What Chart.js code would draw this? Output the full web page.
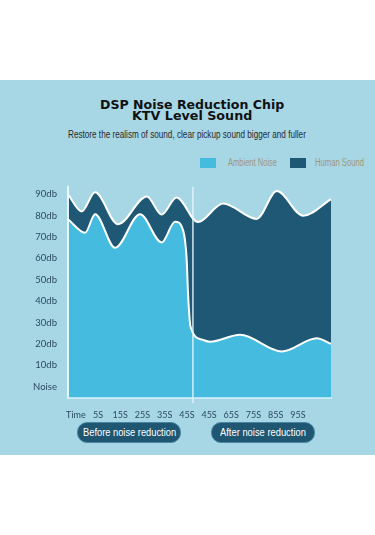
<!DOCTYPE html>
<html>
<head>
<meta charset="utf-8">
<script src="https://cdn.jsdelivr.net/npm/chart.js@4.4.1/dist/chart.umd.min.js"></script>
<style>
    body {
        margin: 0;
        width: 375px;
        height: 535px;
        position: relative;
        overflow: hidden;
        background: #fff;
        font-family: 'Liberation Sans', Arial, sans-serif;
    }
    #panel {
        position: absolute;
        left: 0;
        top: 80px;
        width: 375px;
        height: 375px;
        background: #a7d6e5;
    }
    .fit {
        position: absolute;
        white-space: nowrap;
        transform-origin: 0 50%;
    }
    .title {
        font-family: 'DejaVu Sans', sans-serif;
        font-weight: bold;
        font-size: 12.5px;
        line-height: 14px;
        color: #111;
    }
    .sub {
        font-size: 10.5px;
        line-height: 12px;
        color: #2a2a2a;
    }
    .legend-box {
        position: absolute;
        width: 16px;
        height: 10px;
    }
    .legend-text {
        font-size: 10px;
        line-height: 12px;
        color: #9f9878;
    }
    .pill {
        position: absolute;
        top: 422px;
        height: 19px;
        border-radius: 10px;
        background: #1f5672;
        border: 1px solid #4a86a2;
    }
    .pill-text {
        font-size: 11px;
        line-height: 13px;
        color: #fff;
    }
    #chartWrap {
        position: absolute;
        left: 0;
        top: 170px;
        width: 375px;
        height: 250px;
    }
</style>
</head>
<body>
<div id="panel"></div>
<div id="legend"></div>
<div id="chartWrap"><canvas id="noiseChart"></canvas></div>
<div class="pill" style="left:77px;width:102px"></div>
<div class="pill" style="left:211px;width:102px"></div>

<script>
// data (x in % of the time axis, y in db)
var ambientX = [0, 6.5, 10.3, 17.9, 27.4, 35.6, 40.7, 43.8, 45.1, 45.7, 46.6, 51, 54, 65.4, 81.3, 94.6, 100];
var ambientDb = [78.3, 72, 80.7, 65, 80.7, 67.5, 77.2, 73, 60, 42, 28, 22, 21, 24.3, 16.5, 22.7, 20];

var humanX = [0, 5.2, 10.3, 19, 30, 35.6, 41.3, 49.4, 59, 71.7, 79.4, 89.4, 100];
var humanDb = [90, 82, 91, 76, 89, 80.5, 88.5, 77, 85.7, 78.5, 91.5, 80, 87.7];

var timeLabels = ['Time', '5S', '15S', '25S', '35S', '45S', '45S', '65S', '75S', '85S', '95S'];
var dbTicks = [0, 10, 20, 30, 40, 50, 60, 70, 80, 90];

var seriesNames = ['Ambient Noise', 'Human Sound'];
var stageNames = ['Before noise reduction', 'After noise reduction'];

var ambientColor = '#45bbe0';
var humanColor = '#1f5874';
var tickColor = '#2c4b62';

function toPoints(xs, ys) {
    return xs.map(function (x, i) {
        return { x: x, y: ys[i] };
    });
}

// squeeze a text element to a given width and centre it on (cx, cy)
function placeText(cls, text, cx, cy, width) {
    var el = document.createElement('div');
    el.className = 'fit ' + cls;
    el.textContent = text;
    document.body.appendChild(el);
    var w = el.offsetWidth;
    var h = el.offsetHeight;
    var s = width / w;
    el.style.left = cx - width / 2 + 'px';
    el.style.top = cy - h / 2 + 'px';
    el.style.transform = 'scaleX(' + s + ')';
    return el;
}

placeText('title', 'DSP Noise Reduction Chip', 192, 104.5, 184);
placeText('title', 'KTV Level Sound', 192, 116, 120);
placeText('sub', 'Restore the realism of sound, clear pickup sound bigger and fuller', 187, 134.3, 238);
placeText('pill-text', stageNames[0], 129, 432.5, 93);
placeText('pill-text', stageNames[1], 263, 432.5, 86);

var legendSlots = [
    { box: 200, text: 252.5, width: 49 },
    { box: 290, text: 339, width: 49 },
];

var htmlLegend = {
    id: 'htmlLegend',
    afterUpdate: function (chart) {
        var holder = document.getElementById('legend');
        holder.innerHTML = '';
        var items = chart.options.plugins.legend.labels.generateLabels(chart);
        items.forEach(function (item, i) {
            var slot = legendSlots[i];
            var box = document.createElement('div');
            box.className = 'legend-box';
            box.style.left = slot.box + 'px';
            box.style.top = '158px';
            box.style.background = item.fillStyle;
            holder.appendChild(box);
            placeText('legend-text', item.text, slot.text, 163, slot.width);
        });
    },
};

var dividerLines = {
    id: 'dividerLines',
    afterDatasetsDraw: function (chart) {
        var ctx = chart.ctx;
        var area = chart.chartArea;
        var xMid = chart.scales.x.getPixelForValue(47.5);
        ctx.save();
        ctx.strokeStyle = 'rgba(236,249,253,0.95)';
        ctx.lineWidth = 2;
        ctx.beginPath();
        ctx.moveTo(area.left, area.top + 7);
        ctx.lineTo(area.left, area.bottom);
        ctx.stroke();
        ctx.lineWidth = 1.5;
        ctx.strokeStyle = 'rgba(225,245,251,0.9)';
        ctx.beginPath();
        ctx.moveTo(xMid, area.top + 8);
        ctx.lineTo(xMid, area.bottom + 5);
        ctx.stroke();
        ctx.restore();
    },
};

var tickFont = {
    family: 'Lato, "Liberation Sans", sans-serif',
    size: 9.5,
};

new Chart(document.getElementById('noiseChart'), {
    type: 'line',
    data: {
        datasets: [
            {
                label: seriesNames[0],
                data: toPoints(ambientX, ambientDb),
                backgroundColor: ambientColor,
                borderColor: '#ffffff',
                borderWidth: 2,
                pointRadius: 0,
                fill: 'start',
                cubicInterpolationMode: 'monotone',
            },
            {
                label: seriesNames[1],
                data: toPoints(humanX, humanDb),
                backgroundColor: humanColor,
                borderColor: '#ffffff',
                borderWidth: 2,
                pointRadius: 0,
                fill: '-1',
                cubicInterpolationMode: 'monotone',
            },
        ],
    },
    options: {
        responsive: true,
        maintainAspectRatio: false,
        animation: false,
        layout: {
            padding: { left: 30, right: 44, top: 8, bottom: 0 },
        },
        scales: {
            x: {
                type: 'linear',
                min: 0,
                max: 100,
                afterBuildTicks: function (scale) {
                    scale.ticks = timeLabels.map(function (t, i) {
                        return { value: 3 + 8.44 * i };
                    });
                },
                afterFit: function (scale) {
                    scale.height = 22;
                },
                ticks: {
                    color: tickColor,
                    font: { family: tickFont.family, size: 9 },
                    padding: 4,
                    autoSkip: false,
                    maxRotation: 0,
                    minRotation: 0,
                    callback: function (value, index) {
                        return timeLabels[index];
                    },
                },
                grid: { display: false },
                border: { display: true, color: 'rgba(215,242,251,0.75)', width: 2, z: 1 },
            },
            y: {
                min: -5.3,
                max: 97.3,
                afterBuildTicks: function (scale) {
                    scale.ticks = dbTicks.map(function (v) {
                        return { value: v };
                    });
                },
                afterFit: function (scale) {
                    scale.width = 38;
                },
                ticks: {
                    color: tickColor,
                    font: tickFont,
                    padding: 3,
                    callback: function (value) {
                        return value === 0 ? 'Noise' : value + 'db';
                    },
                },
                grid: { display: false },
                border: { display: false },
            },
        },
        plugins: {
            legend: { display: false },
            tooltip: { enabled: false },
        },
    },
    plugins: [htmlLegend, dividerLines],
});
</script>
</body>
</html>
